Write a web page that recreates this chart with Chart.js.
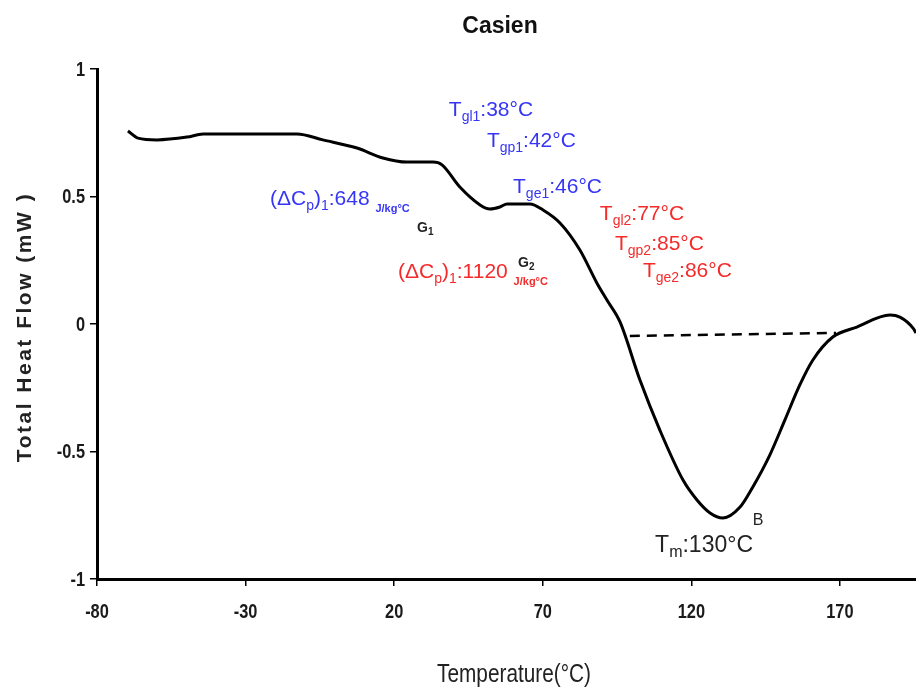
<!DOCTYPE html>
<html>
<head>
<meta charset="utf-8">
<script src="https://cdn.jsdelivr.net/npm/chart.js@4.4.1/dist/chart.umd.min.js"></script>
<style>
  html, body { margin: 0; padding: 0; background: #fff; }
  #wrap { width: 916px; height: 688px; position: relative; }
</style>
</head>
<body>
<div id="wrap"><canvas id="c" width="916" height="688"></canvas></div>
<script>
// ---- data ----
const temperature = [-69.6, -66.2, -59.8, -49.7, -44.3, -12.7, -4.0, 7.5, 16.2, 24.3, 33.1, 36.1, 42.1, 48.9, 52.2, 55.6, 58.0, 65.7, 70.1, 75.8, 82.5, 88.2, 91.6, 96.0, 102.7, 109.4, 117.2, 121.9, 126.3, 130.6, 136.4, 140.7, 146.4, 151.5, 156.5, 160.9, 167.6, 175.7, 186.8, 190.2, 194.6, 195.6];
const heatFlow    = [0.757, 0.729, 0.722, 0.733, 0.745, 0.745, 0.722, 0.690, 0.651, 0.635, 0.635, 0.624, 0.537, 0.467, 0.451, 0.459, 0.471, 0.471, 0.447, 0.396, 0.290, 0.161, 0.094, 0.008, -0.220, -0.416, -0.612, -0.690, -0.741, -0.761, -0.718, -0.639, -0.514, -0.376, -0.239, -0.141, -0.051, -0.012, 0.035, 0.027, -0.016, -0.035];
const baselineTemp = [99.3, 168.7];
const baselineFlow = [-0.047, -0.035];
const xTicks = [-80, -30, 20, 70, 120, 170];
const yTicks = [-1, -0.5, 0, 0.5, 1];
const yTickLabels = ['-1', '-0.5', '0', '0.5', '1'];
const chartTitle = 'Casien';
const xTitle = 'Temperature(°C)';
const yTitle = 'Total Heat Flow (mW )';

const BLUE = '#3535f5', RED = '#f52a2a', DARK = '#222222';
// annotation texts (anchored in data coordinates)
const notes = [
  {x: 38.4, y: 0.816, color: BLUE, parts: [['T'], ['gl1', 's'], [':38°C']]},
  {x: 51.2, y: 0.694, color: BLUE, parts: [['T'], ['gp1', 's'], [':42°C']]},
  {x: 60.0, y: 0.514, color: BLUE, parts: [['T'], ['ge1', 's'], [':46°C']]},
  {x: -21.8, y: 0.467, color: BLUE, parts: [['(ΔC'], ['p', 's'], [')'], ['1', 's'], [':648 '], ['J/kg°C', 'u']]},
  {x: 27.7, y: 0.361, color: DARK, parts: [['G', 'g'], ['1', 'gs']]},
  {x: 61.7, y: 0.224, color: DARK, parts: [['G', 'g'], ['2', 'gs']]},
  {x: 21.3, y: 0.180, color: RED, parts: [['(ΔC'], ['p', 's'], [')'], ['1', 's'], [':1120 '], ['J/kg°C', 'u']]},
  {x: 89.2, y: 0.408, color: RED, parts: [['T'], ['gl2', 's'], [':77°C']]},
  {x: 94.3, y: 0.290, color: RED, parts: [['T'], ['gp2', 's'], [':85°C']]},
  {x: 103.7, y: 0.184, color: RED, parts: [['T'], ['ge2', 's'], [':86°C']]},
  {x: 107.8, y: -0.894, color: DARK, parts: [['T', 'L'], ['m', 'Ls'], [':130°C', 'L']]},
  {x: 140.7, y: -0.788, color: DARK, parts: [['B', 'b']]}
];

const SANS = '"Liberation Sans", Arial, sans-serif';
const partStyle = {
  n:  {size: 21, dy: 0, bold: false},
  s:  {size: 14, dy: 5, bold: false},
  u:  {size: 11, dy: 7, bold: true},
  g:  {size: 14, dy: 0, bold: true},
  gs: {size: 10, dy: 3, bold: true},
  L:  {size: 23, dy: 0, bold: false},
  Ls: {size: 16, dy: 5, bold: false},
  b:  {size: 16, dy: 0, bold: false}
};

function narrowText(ctx, txt, x, y, sx, align) {
  ctx.save();
  ctx.translate(x, y);
  ctx.scale(sx, 1);
  ctx.textAlign = align;
  ctx.fillText(txt, 0, 0);
  ctx.restore();
}

const textPlugin = {
  id: 'texts',
  afterDraw(chart) {
    const ctx = chart.ctx;
    const xs = chart.scales.x, ys = chart.scales.y;
    ctx.save();
    ctx.textBaseline = 'alphabetic';
    ctx.textAlign = 'left';
    for (const n of notes) {
      let cx = xs.getPixelForValue(n.x);
      const by = ys.getPixelForValue(n.y);
      ctx.fillStyle = n.color;
      for (const p of n.parts) {
        const st = partStyle[p[1] || 'n'];
        ctx.font = (st.bold ? 'bold ' : '') + st.size + 'px ' + SANS;
        ctx.fillText(p[0], cx, by + st.dy);
        cx += ctx.measureText(p[0]).width;
      }
    }
    // tick labels (condensed)
    ctx.fillStyle = '#1a1a1a';
    ctx.font = 'bold 21px ' + SANS;
    for (const t of xs.ticks) {
      narrowText(ctx, String(t.value), xs.getPixelForValue(t.value), 618, 0.78, 'center');
    }
    ctx.textBaseline = 'middle';
    for (const t of ys.ticks) {
      narrowText(ctx, yTickLabels[yTicks.indexOf(t.value)], 85, ys.getPixelForValue(t.value) + 1, 0.78, 'right');
    }
    ctx.textBaseline = 'alphabetic';
    // chart title
    ctx.fillStyle = '#111';
    ctx.textAlign = 'center';
    ctx.font = 'bold 23px ' + SANS;
    ctx.fillText(chartTitle, 500, 33);
    // x axis title
    ctx.fillStyle = '#222';
    ctx.font = '26px ' + SANS;
    narrowText(ctx, xTitle, 514, 682, 0.8, 'center');
    // y axis title
    ctx.translate(31, 327);
    ctx.rotate(-Math.PI / 2);
    ctx.textAlign = 'center';
    ctx.font = 'bold 21px ' + SANS;
    ctx.letterSpacing = '2.5px';
    ctx.fillStyle = '#222';
    ctx.fillText(yTitle, 0, 0);
    ctx.restore();
  }
};

new Chart(document.getElementById('c'), {
  type: 'scatter',
  data: {
    datasets: [
      {
        data: temperature.map((t, i) => ({x: t, y: heatFlow[i]})),
        showLine: true,
        borderColor: '#000',
        borderWidth: 3,
        pointRadius: 0,
        cubicInterpolationMode: 'monotone',
        fill: false
      },
      {
        data: baselineTemp.map((t, i) => ({x: t, y: baselineFlow[i]})),
        showLine: true,
        borderColor: '#000',
        borderWidth: 2.5,
        borderDash: [10, 7],
        pointRadius: 0,
        fill: false
      }
    ]
  },
  options: {
    responsive: false,
    animation: false,
    devicePixelRatio: 1,
    layout: {padding: {top: 69, left: 0, right: 0, bottom: 0}},
    plugins: {legend: {display: false}, title: {display: false}, tooltip: {enabled: false}},
    scales: {
      x: {
        type: 'linear',
        min: -80,
        max: 195.6,
        afterBuildTicks: s => { s.ticks = xTicks.map(v => ({value: v})); },
        afterFit: s => { s.height = 109; },
        grid: {display: true, drawOnChartArea: false, drawTicks: true, tickLength: 7, color: '#000', lineWidth: 1.5},
        border: {display: true, color: '#000', width: 3},
        ticks: {display: false}
      },
      y: {
        type: 'linear',
        min: -1,
        max: 1,
        afterBuildTicks: s => { s.ticks = yTicks.map(v => ({value: v})); },
        afterFit: s => { s.width = 97; },
        grid: {display: true, drawOnChartArea: false, drawTicks: true, tickLength: 7, color: '#000', lineWidth: 1.5},
        border: {display: true, color: '#000', width: 3},
        ticks: {display: false}
      }
    }
  },
  plugins: [textPlugin]
});
</script>
</body>
</html>
